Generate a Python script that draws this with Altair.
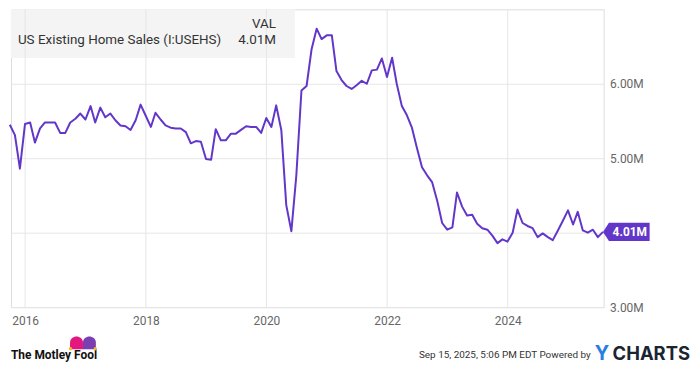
import altair as alt
import pandas as pd

# ---------------- data (millions, SAAR) ----------------
sales_m = [
    # 2015 Sep-Dec
    5.45, 5.31, 4.86, 5.46,
    # 2016
    5.48, 5.21, 5.40, 5.48, 5.48, 5.48, 5.34, 5.34, 5.48, 5.53, 5.60, 5.52,
    # 2017
    5.70, 5.48, 5.68, 5.55, 5.60, 5.51, 5.44, 5.43, 5.38, 5.51, 5.72, 5.57,
    # 2018
    5.42, 5.61, 5.52, 5.44, 5.41, 5.40, 5.40, 5.35, 5.20, 5.23, 5.22, 4.99,
    # 2019
    4.98, 5.39, 5.24, 5.24, 5.33, 5.33, 5.38, 5.43, 5.42, 5.42, 5.34, 5.54,
    # 2020
    5.42, 5.71, 5.38, 4.37, 4.02, 4.77, 5.91, 5.97, 6.46, 6.74, 6.60, 6.65,
    # 2021
    6.65, 6.17, 6.05, 5.97, 5.93, 5.98, 6.04, 6.00, 6.18, 6.19, 6.34, 6.09,
    # 2022
    6.35, 6.00, 5.70, 5.58, 5.41, 5.14, 4.88, 4.77, 4.68, 4.43, 4.13, 4.04,
    # 2023
    4.07, 4.54, 4.35, 4.23, 4.24, 4.12, 4.06, 4.04, 3.96, 3.86, 3.91, 3.88,
    # 2024
    4.00, 4.31, 4.13, 4.09, 4.06, 3.94, 3.99, 3.94, 3.90, 4.03, 4.16, 4.30,
    # 2025
    4.11, 4.28, 4.03, 4.00, 4.04, 3.94, 4.01,
]
first_month = "2015-09"
month_ends = (
    pd.period_range(first_month, periods=len(sales_m), freq="M")
    .to_timestamp(how="end")
    .strftime("%Y-%m-%d")
    .tolist()
)

year_ticks = [2016, 2018, 2020, 2022, 2024]
y_ticks = [3, 4, 5, 6]
y_domain = [3, 7]

series_name = "US Existing Home Sales (I:USEHS)"
header = "VAL"
timestamp = "Sep 15, 2025, 5:06 PM EDT Powered by"
last_label = f"{sales_m[-1]:.2f}M"

LINE = "#6236c9"
GRID = "#e6e6e6"
FRAME = "#d8d8d8"
LABEL = "#666666"
FONT = "Roboto"

W, H = 597, 300

df = pd.DataFrame({"date": month_ends, "value": sales_m})
last = df.tail(1).assign(label=last_label)
years_df = pd.DataFrame({"date": [f"{y}-01-01" for y in year_ticks],
                         "value": [y_domain[0]] * len(year_ticks)})
one = pd.DataFrame({"k": [0]})

x_scale = alt.Scale(type="utc", domain=[
    alt.DateTime(year=2015, month=10, date=7, utc=True),
    alt.DateTime(year=2025, month=8, date=4, utc=True),
])
y_scale = alt.Scale(domain=y_domain, nice=False, zero=False)

x_axis = alt.Axis(
    values=[alt.DateTime(year=y, month=1, date=1, utc=True) for y in year_ticks],
    labelExpr="utcFormat(datum.value, '%Y')",
    grid=False, ticks=False, domain=False, title=None,
    labelColor=LABEL, labelFontSize=12, labelPadding=9, labelFont=FONT,
)
y_axis = alt.Axis(
    orient="right", values=y_ticks,
    labelExpr="datum.value == 4 ? '' : format(datum.value, '.2f') + 'M'",
    grid=True, gridColor=GRID, ticks=False, domain=False, title=None,
    labelColor=LABEL, labelFontSize=12, labelPadding=6, labelFont=FONT,
)

X = alt.X("date:T", scale=x_scale, axis=x_axis)
Y = alt.Y("value:Q", scale=y_scale, axis=y_axis)

# legend box
box = alt.Chart(one).mark_rect(color="#f4f4f4").encode(
    x=alt.value(0), x2=alt.value(286), y=alt.value(0), y2=alt.value(49)
)

# vertical grid lines (drawn above the legend box)
vgrid = alt.Chart(years_df).mark_rule(color=GRID, strokeWidth=1).encode(
    x=X, y=alt.value(0), y2=alt.value(H)
)

line = alt.Chart(df).mark_line(color=LINE, strokeWidth=2, strokeJoin="round").encode(
    x=X, y=Y
)

tag_path = "M0,0 L0.24,-0.37 L1.88,-0.37 L1.88,0.37 L0.24,0.37 Z"
tag = alt.Chart(last).mark_point(
    shape=tag_path, size=2500, filled=True, color=LINE, opacity=1, strokeWidth=0
).encode(x=X, y=Y)

tag_text = alt.Chart(last).mark_text(
    color="white", fontWeight="bold", fontSize=12, font=FONT, align="center",
    baseline="middle", dx=27, dy=0.5
).encode(x=X, y=Y, text="label:N")

def txt(s, x, y, align="left", size=13.5, color="#333333", weight="normal", font=FONT):
    return alt.Chart(pd.DataFrame({"t": [s]})).mark_text(
        align=align, baseline="middle", fontSize=size, color=color,
        fontWeight=weight, font=font
    ).encode(x=alt.value(x), y=alt.value(y), text="t:N")

legend_texts = [
    txt(header, 267, 15, align="right"),
    txt(series_name, 7, 31),
    txt(last_label, 267, 31, align="right"),
]

footer = [
    txt(timestamp, 584, 348, align="right", size=10, color="#333333"),
    txt("Y", 588, 347.5, size=20, color="#2a7de1", weight="bold", font="Inter, Roboto"),
    txt("CHARTS", 606, 347.5, size=18.5, color="#1b2532", weight="bold", font="Inter, Roboto"),
    txt("The Motley Fool", 0, 348.5, size=12, color="#111111", weight="bold"),
]

dome = "M-1,1 L-1,0 C-1,-1.3 1,-1.3 1,0 L1,1 Z"
hat = [
    alt.Chart(one).mark_point(shape=dome, size=170, filled=True, color="#e4177f", opacity=1).encode(
        x=alt.value(66), y=alt.value(336)),
    alt.Chart(one).mark_point(shape=dome, size=170, filled=True, color="#7a3fb0", opacity=1).encode(
        x=alt.value(79), y=alt.value(336)),
    alt.Chart(one).mark_point(shape="circle", size=12, filled=True, color="#f2b72b", opacity=1).encode(
        x=alt.value(60), y=alt.value(342)),
    alt.Chart(one).mark_point(shape="circle", size=12, filled=True, color="#f2b72b", opacity=1).encode(
        x=alt.value(85), y=alt.value(342)),
]

chart = alt.layer(
    box, vgrid, line, tag, tag_text, *legend_texts, *footer, *hat
).properties(
    width=W, height=H,
    autosize=alt.AutoSizeParams(type="none"),
    padding={"left": 3, "top": 0, "right": 89, "bottom": 60},
).configure_view(
    stroke=FRAME, strokeWidth=1
).configure(
    font=FONT, background="white"
)

chart.save("out.html", embed_options={"renderer": "svg", "actions": False})
